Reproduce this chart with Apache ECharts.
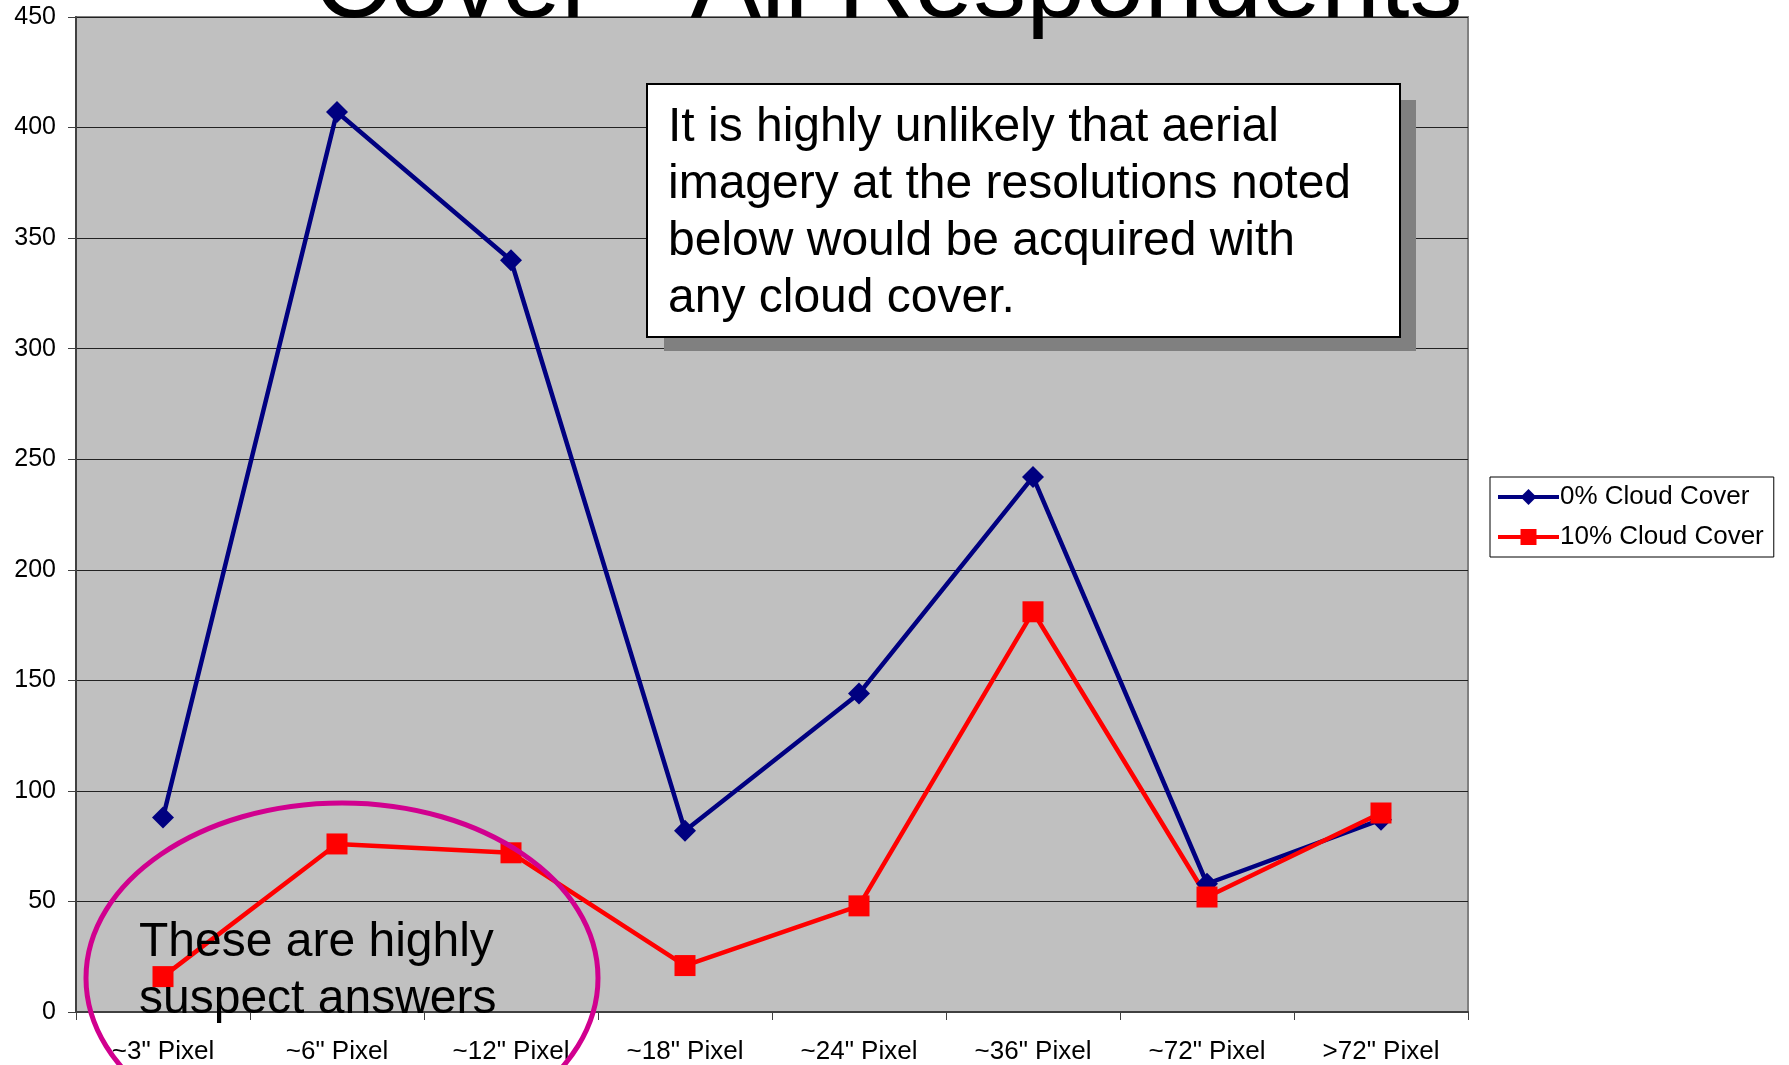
<!DOCTYPE html>
<html>
<head>
<meta charset="utf-8">
<script src="https://cdn.jsdelivr.net/npm/echarts@6/dist/echarts.min.js"></script>
<style>
  html, body { margin: 0; padding: 0; background: #fff; }
  #main { width: 1789px; height: 1065px; }
</style>
</head>
<body>
<div id="main"></div>
<script>
// categories and values
const categories = ['~3" Pixel', '~6" Pixel', '~12" Pixel', '~18" Pixel', '~24" Pixel', '~36" Pixel', '~72" Pixel', '>72" Pixel'];
const cloud0 = [88, 407, 340, 82, 144, 242, 58, 87];
const cloud10 = [16, 76, 72, 21, 48, 181, 52, 90];
const seriesNames = ['0% Cloud Cover', '10% Cloud Cover'];

const font = '"Liberation Sans", Arial, sans-serif';
const chart = echarts.init(document.getElementById('main'));

chart.setOption({
  backgroundColor: '#ffffff',
  animation: false,
  grid: {
    left: 76, right: 321, top: 17, bottom: 52,
    show: true,
    backgroundColor: '#c0c0c0',
    borderColor: '#808080',
    borderWidth: 2
  },
  legend: {
    orient: 'vertical',
    left: 1490, top: 477,
    padding: [7, 10, 7, 6],
    backgroundColor: '#ffffff',
    borderColor: '#000000',
    borderWidth: 1,
    itemWidth: 61, itemHeight: 20, itemGap: 14,
    lineStyle: { width: 4 },
    textStyle: { fontFamily: font, fontSize: 26, color: '#000', padding: [0, 0, 0, -4] },
    data: seriesNames
  },
  xAxis: {
    type: 'category',
    data: categories,
    boundaryGap: true,
    axisLine: { lineStyle: { color: '#404040', width: 2 } },
    axisTick: { show: true, length: 8, lineStyle: { color: '#404040' } },
    axisLabel: { fontFamily: font, fontSize: 26, color: '#000', margin: 27 }
  },
  yAxis: {
    type: 'value',
    min: 0, max: 450, interval: 50,
    axisLine: { show: true, lineStyle: { color: '#404040', width: 2 } },
    axisTick: { show: true, length: 8, lineStyle: { color: '#404040' } },
    axisLabel: { fontFamily: font, fontSize: 25, color: '#000', margin: 20 },
    splitLine: { lineStyle: { color: '#222222', width: 1 } }
  },
  series: [
    {
      name: seriesNames[0],
      type: 'line',
      data: cloud0,
      symbol: 'diamond',
      symbolSize: [22, 22],
      lineStyle: { color: '#000080', width: 4.5 },
      itemStyle: { color: '#000080' }
    },
    {
      name: seriesNames[1],
      type: 'line',
      data: cloud10,
      symbol: 'rect',
      symbolSize: 21,
      lineStyle: { color: '#ff0000', width: 4.5 },
      itemStyle: { color: '#ff0000' }
    }
  ],
  graphic: [
    {
      type: 'text', x: 888, y: -12, z: 10,
      style: {
        text: 'Cover - All Respondents',
        font: '106px ' + font,
        fill: '#000', align: 'center', verticalAlign: 'middle'
      }
    },
    {
      type: 'rect', z: 10,
      shape: { x: 664, y: 100, width: 752, height: 251 },
      style: { fill: '#808080' }
    },
    {
      type: 'rect', z: 11,
      shape: { x: 647, y: 84, width: 753, height: 253 },
      style: { fill: '#ffffff', stroke: '#000000', lineWidth: 2 }
    },
    {
      type: 'text', z: 12, x: 668, y: 99,
      style: {
        text: 'It is highly unlikely that aerial\nimagery at the resolutions noted\nbelow would be acquired with\nany cloud cover.',
        font: '48px ' + font,
        lineHeight: 57,
        fill: '#000', align: 'left', verticalAlign: 'top'
      }
    },
    {
      type: 'ellipse', z: 12,
      shape: { cx: 342, cy: 978, rx: 256, ry: 175 },
      style: { fill: null, stroke: '#d1008f', lineWidth: 5 }
    },
    {
      type: 'text', z: 12, x: 139, y: 914,
      style: {
        text: 'These are highly\nsuspect answers',
        font: '48px ' + font,
        lineHeight: 57,
        fill: '#000', align: 'left', verticalAlign: 'top'
      }
    }
  ]
});
</script>
</body>
</html>
